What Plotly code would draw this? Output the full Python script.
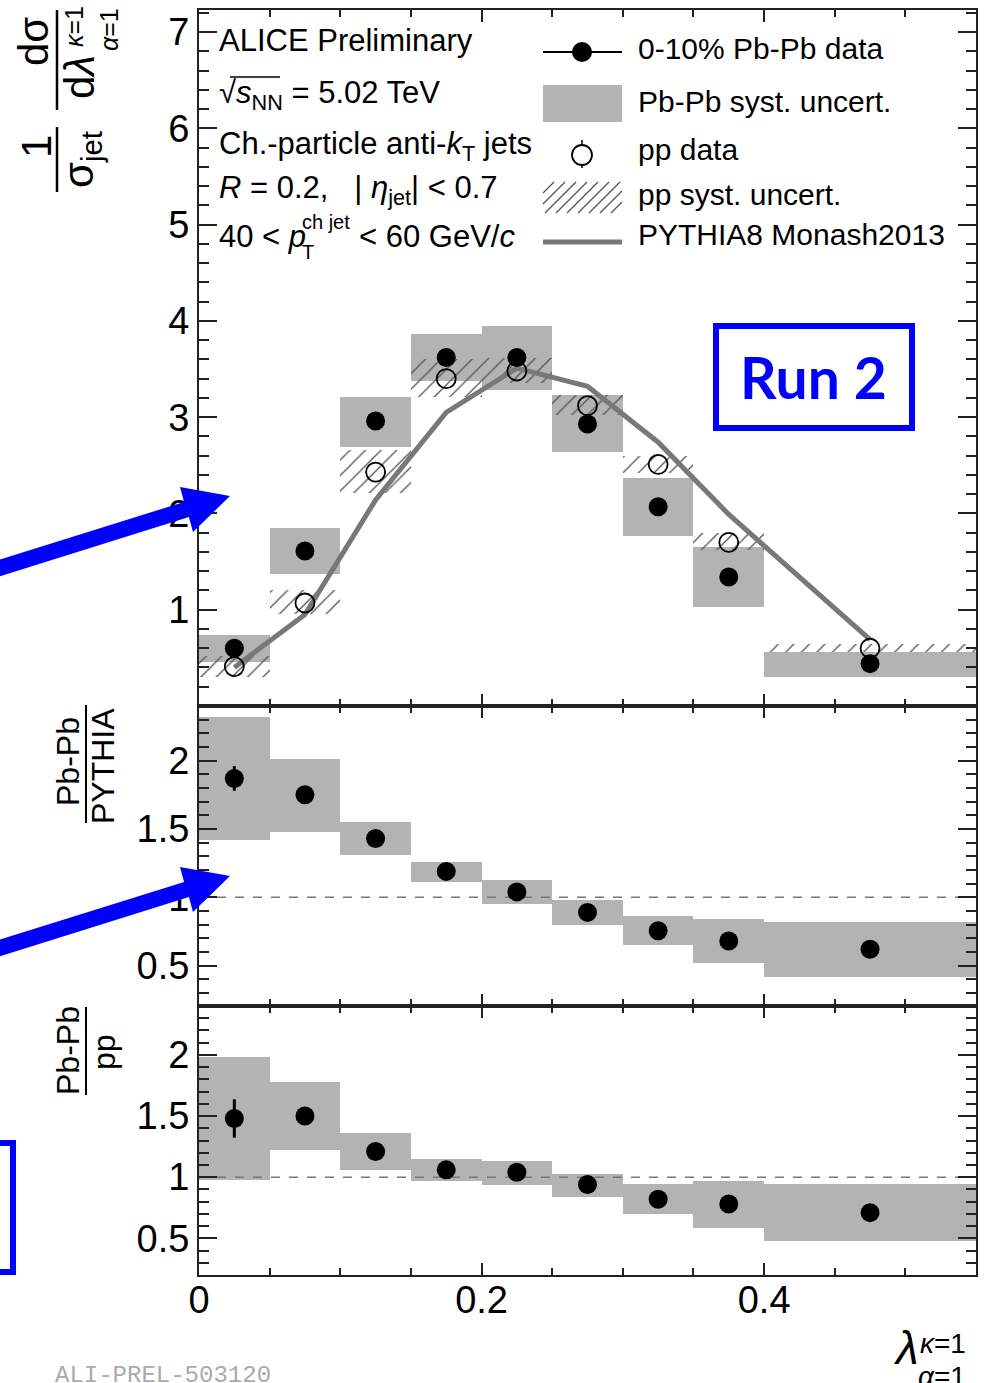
import plotly.graph_objects as go

W, H = 992, 1383

# ---------------- data ----------------
bin_edges = [0.0, 0.05, 0.10, 0.15, 0.20, 0.25, 0.30, 0.35, 0.40, 0.55]

pbpb = [0.60, 1.61, 2.96, 3.62, 3.62, 2.93, 2.07, 1.34, 0.44]
pbpb_syst_lo = [0.46, 1.37, 2.69, 3.38, 3.28, 2.64, 1.77, 1.03, 0.30]
pbpb_syst_hi = [0.74, 1.85, 3.21, 3.86, 3.95, 3.23, 2.37, 1.65, 0.56]

pp = [0.41, 1.07, 2.43, 3.40, 3.48, 3.12, 2.51, 1.70, 0.60]
pp_syst_lo = [0.30, 0.96, 2.21, 3.21, 3.36, 3.02, 2.42, 1.62, 0.56]
pp_syst_hi = [0.52, 1.20, 2.66, 3.60, 3.62, 3.23, 2.60, 1.80, 0.64]

pythia = [0.40, 0.95, 2.14, 3.05, 3.51, 3.32, 2.74, 1.99, 0.69]

ratio_pythia = [1.87, 1.75, 1.43, 1.19, 1.04, 0.89, 0.755, 0.68, 0.62]
ratio_pythia_lo = [1.42, 1.48, 1.31, 1.11, 0.95, 0.80, 0.65, 0.52, 0.42]
ratio_pythia_hi = [2.32, 2.01, 1.55, 1.26, 1.13, 0.98, 0.86, 0.84, 0.82]
ratio_pythia_stat = [0.09, 0.04, 0.03, 0.02, 0.02, 0.02, 0.02, 0.03, 0.03]

ratio_pp = [1.48, 1.50, 1.21, 1.06, 1.04, 0.94, 0.82, 0.78, 0.71]
ratio_pp_lo = [0.98, 1.22, 1.055, 0.97, 0.94, 0.84, 0.70, 0.585, 0.48]
ratio_pp_hi = [1.98, 1.78, 1.36, 1.15, 1.13, 1.03, 0.945, 0.97, 0.945]
ratio_pp_stat = [0.157, 0.05, 0.03, 0.02, 0.02, 0.02, 0.03, 0.03, 0.03]

x_tick_vals = [0, 0.2, 0.4]
x_tick_text = ["0", "0.2", "0.4"]
top_tick_vals = [1, 2, 3, 4, 5, 6, 7]
ratio_tick_vals = [0.5, 1, 1.5, 2]
ratio_tick_text = ["0.5", "1", "1.5", "2"]

# ---------------- helpers ----------------
centers = [(a + b) / 2 for a, b in zip(bin_edges[:-1], bin_edges[1:])]
widths = [b - a for a, b in zip(bin_edges[:-1], bin_edges[1:])]


def PX(x):
    return x / W


def PY(y):
    return 1 - y / H


FONT = "Liberation Sans, Arial, sans-serif"
GREY = "#b3b3b3"

fig = go.Figure()


def syst_bar(lo, hi, xa, ya, hatch=False):
    if hatch:
        marker = dict(color="#555555", line=dict(width=0),
                      pattern=dict(shape="/", size=11, solidity=0.12, fillmode="replace"))
    else:
        marker = dict(color=GREY, line=dict(width=0))
    return go.Bar(x=centers, y=[h - l for l, h in zip(lo, hi)], base=lo, width=widths,
                  marker=marker, xaxis=xa, yaxis=ya, showlegend=False, hoverinfo="skip")


# top panel
fig.add_trace(syst_bar(pbpb_syst_lo, pbpb_syst_hi, "x", "y"))
fig.add_trace(syst_bar(pp_syst_lo, pp_syst_hi, "x", "y", hatch=True))
fig.add_trace(go.Scatter(x=centers, y=pythia, mode="lines", line=dict(color="#787878", width=5),
                         xaxis="x", yaxis="y", showlegend=False))
fig.add_trace(go.Scatter(x=centers, y=pbpb, mode="markers", marker=dict(color="black", size=19),
                         xaxis="x", yaxis="y", showlegend=False))
fig.add_trace(go.Scatter(x=centers, y=pp, mode="markers",
                         marker=dict(symbol="circle-open", color="black", size=19, line=dict(width=1.8)),
                         xaxis="x", yaxis="y", showlegend=False))

# ratio panels
for (vals, lo, hi, st, xa, ya) in [
    (ratio_pythia, ratio_pythia_lo, ratio_pythia_hi, ratio_pythia_stat, "x2", "y2"),
    (ratio_pp, ratio_pp_lo, ratio_pp_hi, ratio_pp_stat, "x3", "y3"),
]:
    fig.add_trace(syst_bar(lo, hi, xa, ya))
    fig.add_trace(go.Scatter(x=[bin_edges[0], bin_edges[-1]], y=[1, 1], mode="lines",
                             line=dict(color="#777777", width=1.5, dash="dash"),
                             xaxis=xa, yaxis=ya, showlegend=False))
    fig.add_trace(go.Scatter(x=centers, y=vals, mode="markers", marker=dict(color="black", size=19),
                             error_y=dict(type="data", array=st, color="black", thickness=3, width=0),
                             xaxis=xa, yaxis=ya, showlegend=False))

# ---------------- axes ----------------
xdom = [199 / W, 976 / W]
common_x = dict(range=[0, 0.55], domain=xdom, tickmode="array", tickvals=x_tick_vals, ticktext=x_tick_text,
                ticks="inside", ticklen=12, tickwidth=1.5, tickcolor="#222",
                minor=dict(tickmode="linear", tick0=0, dtick=0.05, ticks="inside", ticklen=7,
                           tickwidth=1.5, tickcolor="#222"),
                mirror="ticks", showline=True, linewidth=2, linecolor="#222",
                showgrid=False, zeroline=False,
                tickfont=dict(family=FONT, size=38, color="black"))
common_y = dict(ticks="inside", ticklen=18, tickwidth=1.5, tickcolor="#222",
                mirror="ticks", showline=True, linewidth=2, linecolor="#222",
                showgrid=False, zeroline=False, tickmode="array",
                tickfont=dict(family=FONT, size=38, color="black"))

fig.update_layout(
    width=W, height=H, margin=dict(l=0, r=0, t=0, b=0, autoexpand=False),
    paper_bgcolor="white", plot_bgcolor="white", barmode="overlay", bargap=0,
    showlegend=False,
    xaxis=dict(common_x, anchor="y", showticklabels=False),
    xaxis2=dict(common_x, anchor="y2", matches="x", showticklabels=False),
    xaxis3=dict(common_x, anchor="y3", matches="x", showticklabels=True, ticklabelstandoff=-10),
    yaxis=dict(common_y, domain=[PY(706), PY(10)], range=[0, 7.23], anchor="x",
               tickvals=top_tick_vals,
               minor=dict(tickmode="linear", tick0=0, dtick=0.2, ticks="inside", ticklen=10,
                          tickwidth=1.5, tickcolor="#222")),
    yaxis2=dict(common_y, domain=[PY(1006), PY(706)], range=[0.205, 2.40], anchor="x2",
                tickvals=ratio_tick_vals, ticktext=ratio_tick_text,
                minor=dict(tickmode="linear", tick0=0, dtick=0.1, ticks="inside", ticklen=10,
                           tickwidth=1.5, tickcolor="#222")),
    yaxis3=dict(common_y, domain=[PY(1275), PY(1006)], range=[0.2, 2.40], anchor="x3",
                tickvals=ratio_tick_vals, ticktext=ratio_tick_text,
                minor=dict(tickmode="linear", tick0=0, dtick=0.1, ticks="inside", ticklen=10,
                           tickwidth=1.5, tickcolor="#222")),
)

# ---------------- annotations / decorations ----------------
anns = []
shapes = []


def ann(text, x, y, size, xanchor="left", yanchor="middle", angle=0, color="black", family=FONT):
    anns.append(dict(text=text, x=PX(x), y=PY(y), xref="paper", yref="paper", showarrow=False,
                     xanchor=xanchor, yanchor=yanchor, textangle=angle,
                     font=dict(family=family, size=size, color=color)))


def line(x0, y0, x1, y1, color="black", width=2, dash=None):
    shapes.append(dict(type="line", xref="paper", yref="paper", x0=PX(x0), y0=PY(y0), x1=PX(x1), y1=PY(y1),
                       line=dict(color=color, width=width, dash=dash), layer="above"))


def rect(x0, y0, x1, y1, fill=None, lcolor=None, lwidth=0):
    shapes.append(dict(type="rect", xref="paper", yref="paper", x0=PX(x0), y0=PY(y0), x1=PX(x1), y1=PY(y1),
                       fillcolor=fill if fill else "rgba(0,0,0,0)",
                       line=dict(color=lcolor if lcolor else "rgba(0,0,0,0)", width=lwidth), layer="above"))


def circle(cx, cy, r, fill=None, lcolor="black", lwidth=1.8):
    shapes.append(dict(type="circle", xref="paper", yref="paper", x0=PX(cx - r), y0=PY(cy + r),
                       x1=PX(cx + r), y1=PY(cy - r),
                       fillcolor=fill if fill else "rgba(0,0,0,0)",
                       line=dict(color=lcolor, width=lwidth), layer="above"))


def path(pts, fill=None, lcolor=None, lwidth=0, closed=True):
    d = "M " + " L ".join(f"{PX(x):.5f},{PY(y):.5f}" for x, y in pts) + (" Z" if closed else "")
    shapes.append(dict(type="path", xref="paper", yref="paper", path=d,
                       fillcolor=fill if fill else "rgba(0,0,0,0)",
                       line=dict(color=lcolor if lcolor else "rgba(0,0,0,0)", width=lwidth), layer="above"))


# left text block
TS = 31
ann("ALICE Preliminary", 217, 41, TS)
ann("\u221a<i>s</i><sub>NN</sub> = 5.02 TeV", 217, 95, TS)
line(230, 77, 280, 77, width=1.5)
ann("Ch.-particle anti-<i>k</i><sub>T</sub> jets", 217, 146, TS)
ann("<i>R</i> = 0.2,\u00a0\u00a0\u00a0| <i>\u03b7</i><sub>jet</sub>| < 0.7", 217, 190, TS)
ann("40 < <i>p</i>", 217, 236, TS)
ann("ch jet", 300, 222, 20)
ann("T", 300, 252, 20)
ann("< 60 GeV/<i>c</i>", 357, 236, TS)

# legend
LS = 30
LX = 636
line(543, 52, 622, 52, width=2)
circle(582, 52, 10, fill="black", lwidth=0)
ann("0-10% Pb-Pb data", LX, 48, LS)
rect(543, 85, 622, 122, fill=GREY)
ann("Pb-Pb syst. uncert.", LX, 101, LS)
line(582, 140, 582, 168, width=1.5)
circle(582, 155, 10, fill="white", lwidth=1.8)
ann("pp data", LX, 149, LS)
hx0, hx1, hy0, hy1 = 543, 622, 182, 213
hh = hy1 - hy0
k = hx0 - hh
while k < hx1:
    xa, ya = k, hy1
    xb, yb = k + hh, hy0
    if xa < hx0:
        ya = hy1 - (hx0 - xa)
        xa = hx0
    if xb > hx1:
        yb = hy0 + (xb - hx1)
        xb = hx1
    if xb > xa:
        path([(xa, ya), (xb, yb)], lcolor="#555555", lwidth=1.3, closed=False)
    k += 11
ann("pp syst. uncert.", LX, 194, LS)
line(543, 242, 622, 242, color="#787878", width=5)
ann("PYTHIA8 Monash2013", LX, 234, LS)

# y-axis titles
YS = 42
ann("1", 36, 147, YS, xanchor="center", yanchor="middle", angle=-90)
line(57, 127, 57, 192, width=2.5)
ann("\u03c3<sub>jet</sub>", 82, 160, YS, xanchor="center", yanchor="middle", angle=-90)
ann("d\u03c3", 33, 42, YS, xanchor="center", yanchor="middle", angle=-90)
line(57, 10, 57, 110, width=2.5)
ann("d<i>\u03bb</i>", 80, 77, YS, xanchor="center", yanchor="middle", angle=-90)
ann("<i>\u03ba</i>=1", 74, 27, 25, xanchor="center", yanchor="middle", angle=-90)
ann("<i>\u03b1</i>=1", 109, 30, 25, xanchor="center", yanchor="middle", angle=-90)

RS = 32
ann("Pb-Pb", 68, 762, RS, xanchor="center", yanchor="middle", angle=-90)
line(86, 705, 86, 823, width=2)
ann("PYTHIA", 103, 766, RS, xanchor="center", yanchor="middle", angle=-90)
ann("Pb-Pb", 68, 1051, RS, xanchor="center", yanchor="middle", angle=-90)
line(86, 1007, 86, 1095, width=2)
ann("pp", 104, 1052, RS, xanchor="center", yanchor="middle", angle=-90)

# x-axis title
ann("<i>\u03bb</i>", 906, 1348, 46, xanchor="center", yanchor="middle")
ann("<i>\u03ba</i>=1", 918, 1343, 28)
ann("<i>\u03b1</i>=1", 916, 1376, 28)

# watermark
ann("ALI-PREL-503120", 53, 1375, 24, family="Liberation Mono, Courier New, monospace", color="#aaaaaa")

# blue overlay
BLUE = "#0000ff"
rect(716, 326, 912, 428, lcolor=BLUE, lwidth=6)
ann("<b>Run 2</b>", 813, 377, 57, xanchor="center", yanchor="middle", color=BLUE, family="Lato, Open Sans, sans-serif")


def arrow(dy):
    pts = [(-22, 566.5), (184.1, 501.9), (180, 487), (230, 496), (193, 532), (188.9, 517.1), (-18, 582)]
    path([(x, y + dy) for x, y in pts], fill=BLUE)


arrow(0)
arrow(380)
rect(-20, 1143, 13, 1272, lcolor=BLUE, lwidth=6)

fig.update_layout(annotations=anns, shapes=shapes)
fig.write_html("out.html")
